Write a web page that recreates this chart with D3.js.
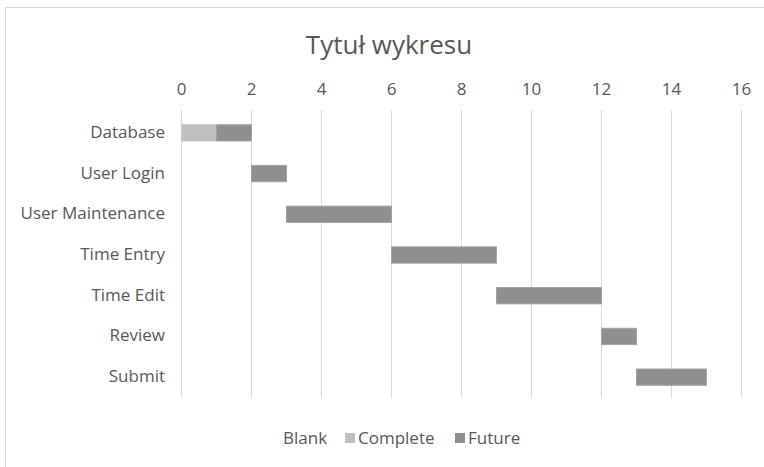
<!DOCTYPE html>
<html>
<head>
<meta charset="utf-8">
<script src="https://cdnjs.cloudflare.com/ajax/libs/d3/7.8.5/d3.min.js"></script>
<style>
  body { margin: 0; background: #fff; }
  svg { display: block; font-family: "Open Sans", sans-serif; }
</style>
</head>
<body>
<svg id="chart" width="764" height="467"></svg>
<script>
var tasks = ["Database", "User Login", "User Maintenance", "Time Entry", "Time Edit", "Review", "Submit"];
var blank = [0, 2, 3, 6, 9, 12, 13];
var complete = [1, 0, 0, 0, 0, 0, 0];
var future = [1, 1, 3, 3, 3, 1, 2];
var xTicks = [0, 2, 4, 6, 8, 10, 12, 14, 16];
var seriesNames = ["Blank", "Complete", "Future"];

var svg = d3.select("#chart");
var textColor = "#595959";
var fontSize = 17;

// chart frame
svg.append("rect")
    .attr("x", 5.5).attr("y", 7.5)
    .attr("width", 800).attr("height", 470)
    .attr("fill", "#fff").attr("stroke", "#d9d9d9");

var x = d3.scaleLinear().domain([0, 16]).range([181, 741]);
var y = d3.scaleBand().domain(tasks).range([112, 397]).paddingInner(0.6).paddingOuter(0.3);

svg.append("text")
    .attr("x", 389).attr("y", 54)
    .attr("text-anchor", "middle")
    .attr("font-size", 26)
    .attr("fill", textColor)
    .text("Tytuł wykresu");

// gridlines
svg.append("g").selectAll("line")
    .data(xTicks)
    .join("line")
    .attr("x1", d => x(d) + 0.5).attr("x2", d => x(d) + 0.5)
    .attr("y1", 110).attr("y2", 398)
    .attr("stroke", "#d9d9d9");

var xAxis = svg.append("g")
    .attr("transform", "translate(0,95)")
    .call(d3.axisTop(x).tickValues(xTicks).tickSize(0).tickPadding(0));
xAxis.select(".domain").remove();
xAxis.selectAll("text").attr("font-size", fontSize).attr("fill", textColor).attr("font-family", "Open Sans");

var yAxis = svg.append("g")
    .attr("transform", "translate(165,0)")
    .call(d3.axisLeft(y).tickSize(0).tickPadding(0));
yAxis.select(".domain").remove();
yAxis.selectAll("text").attr("font-size", fontSize).attr("fill", textColor).attr("font-family", "Open Sans");

var rows = tasks.map((t, i) => ({task: t, blank: blank[i], complete: complete[i], future: future[i]}));
var stack = d3.stack().keys(["blank", "complete", "future"]);
var layers = stack(rows);
var fills = {blank: "none", complete: "#bfbfbf", future: "#8f8f8f"};
var strokes = {blank: "none", complete: "#c9c9c9", future: "#a3a3a3"};

svg.append("g").selectAll("g")
    .data(layers)
    .join("g")
    .attr("fill", d => fills[d.key])
    .attr("stroke", d => strokes[d.key])
    .selectAll("rect")
    .data(d => d.filter(v => v[1] > v[0]))
    .join("rect")
    .attr("x", d => x(d[0]) + 0.5)
    .attr("y", d => y(d.data.task) + 0.5)
    .attr("width", d => x(d[1]) - x(d[0]))
    .attr("height", y.bandwidth());

// legend
var legendX = [283, 345, 455];
var legend = svg.append("g");
seriesNames.forEach(function(name, i) {
    var key = name.toLowerCase();
    var g = legend.append("g").attr("transform", `translate(${legendX[i]},438)`);
    var tx = 0;
    if (key != "blank") {
        g.append("rect").attr("x", 0).attr("y", -5).attr("width", 10).attr("height", 10).attr("fill", fills[key]);
        tx = 13;
    }
    g.append("text").attr("x", tx).attr("y", 6)
        .attr("font-size", fontSize).attr("fill", textColor)
        .text(name);
});
</script>
</body>
</html>
